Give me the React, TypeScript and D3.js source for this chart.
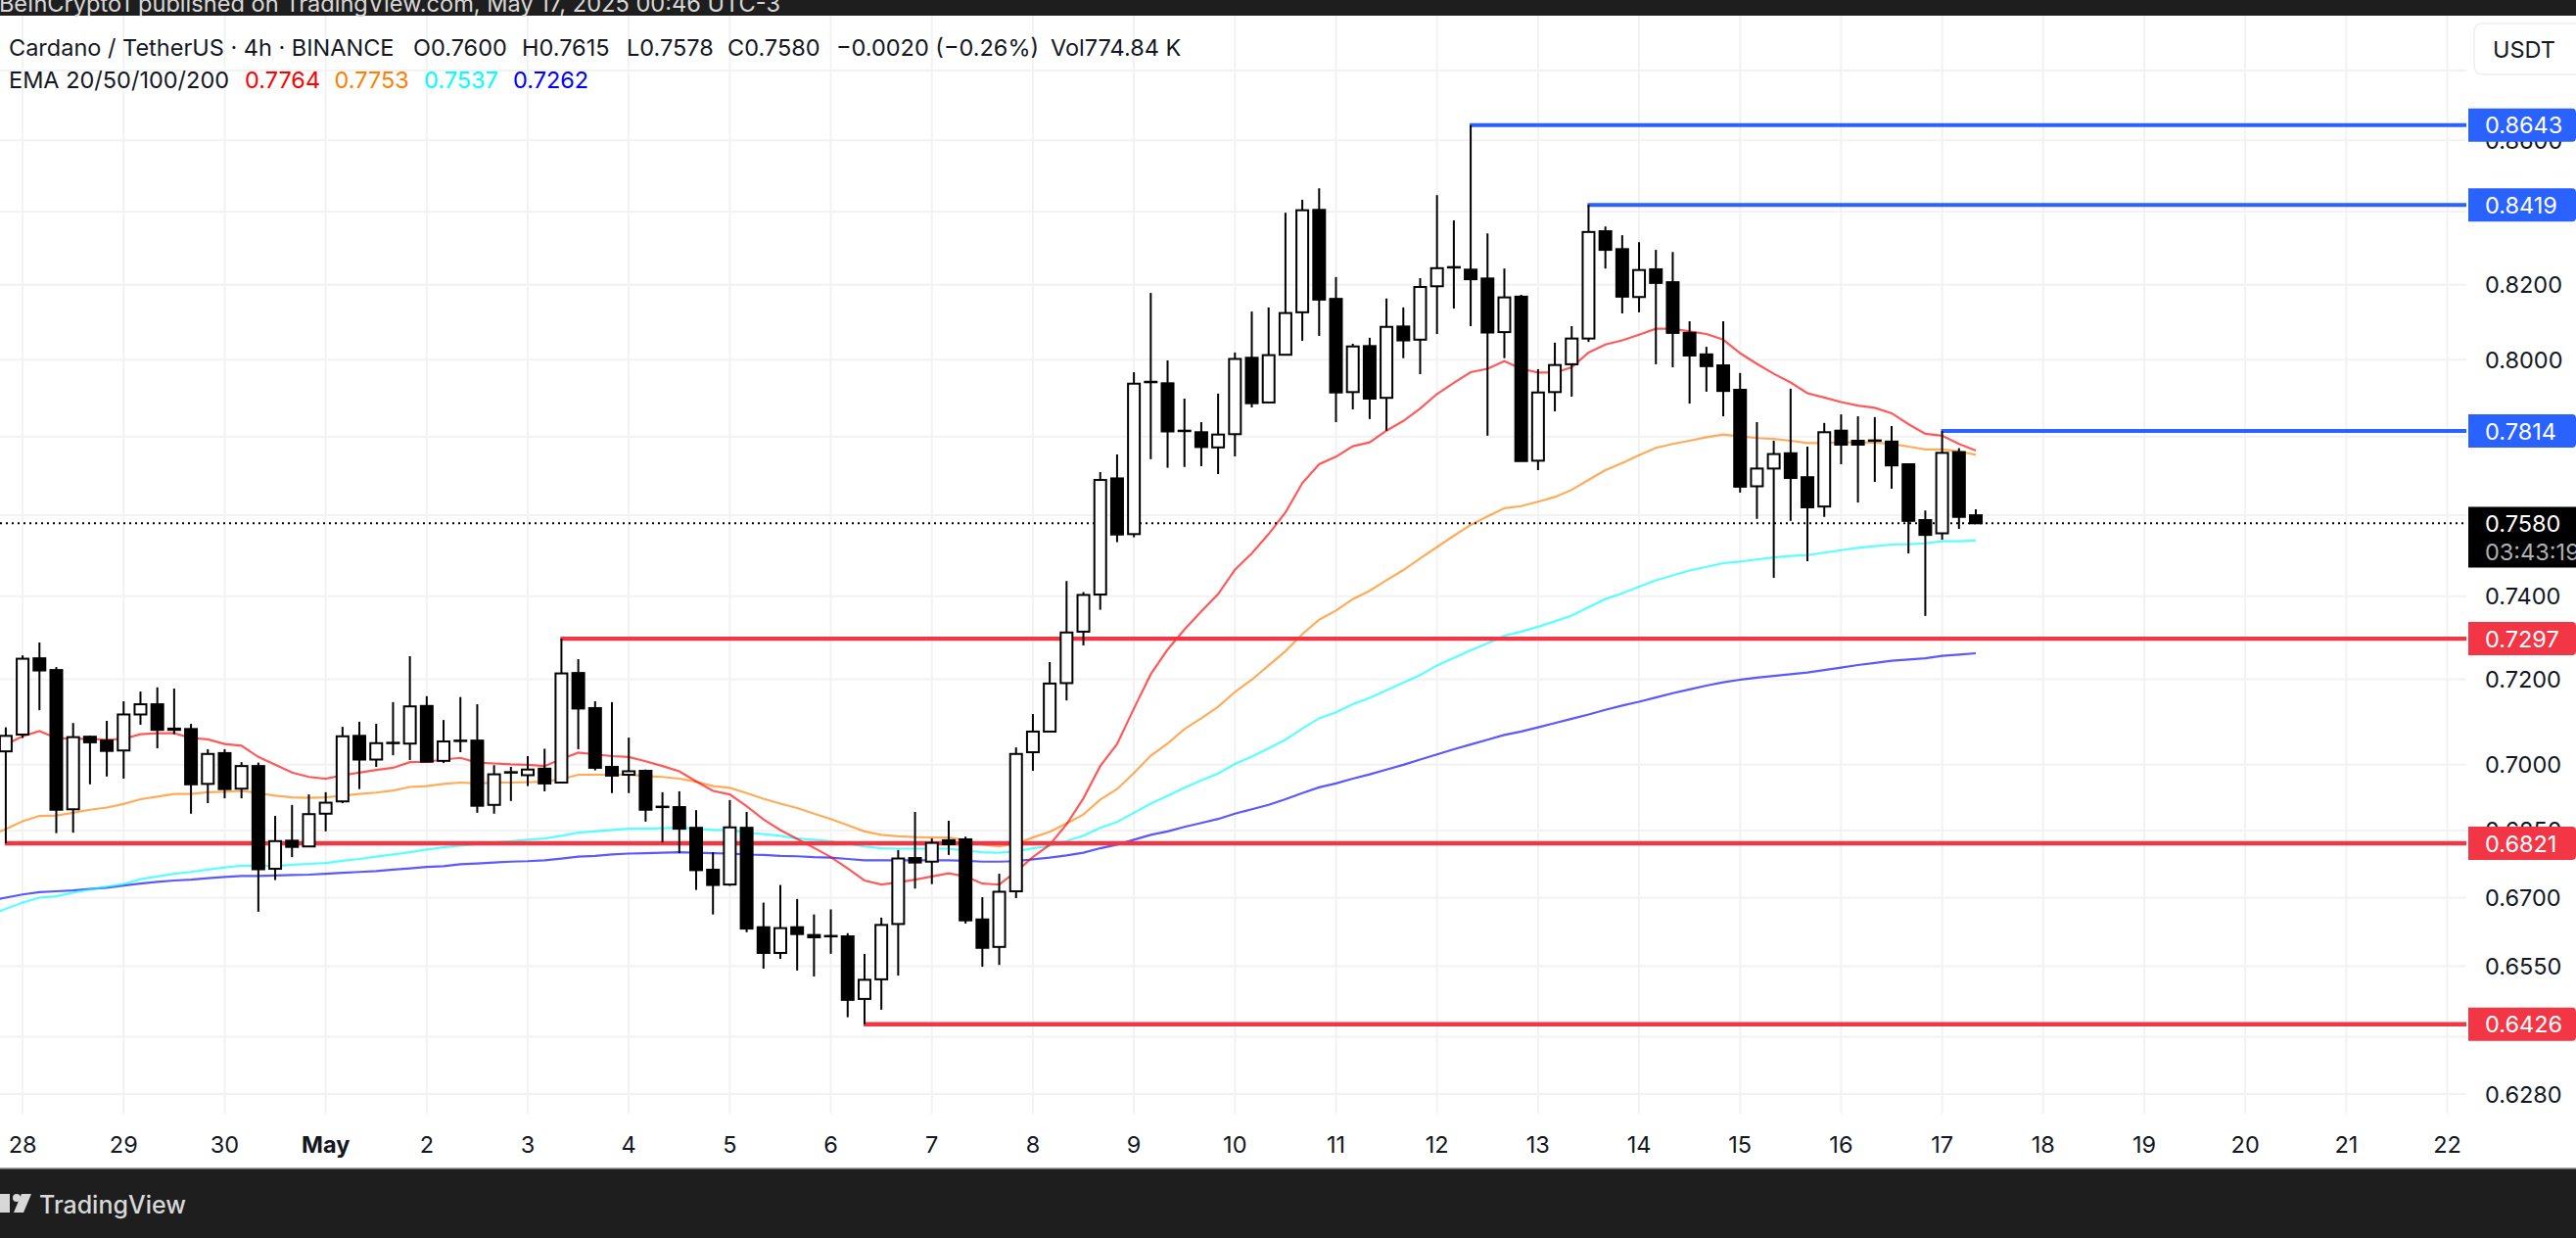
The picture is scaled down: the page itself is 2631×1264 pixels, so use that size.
import React from "react";
import * as d3 from "d3";

const W = 2631;
const H = 1264;

// Candle OHLC (4h bars, left to right)
const opens = [
  .7031,.7070,.7250,.7222,.6898,.7065,.7056,.7033,.7117,.7141,.7084,.7083,.6956,.7027,.6945,.6997,.6764,.6827,.6814,.6888,
  .6916,.7067,.7012,.7050,.7049,.7137,.7009,.7056,.7056,.6908,.6982,.6976,.6991,.6959,.7215,.7132,.6995,.6977,.6986,.6904,
  .6903,.6856,.6762,.6729,.6856,.6635,.6579,.6635,.6618,.6616,.6615,.6480,.6522,.6642,.6788,.6780,.6828,.6830,.6652,.6592,
  .6714,.7029,.7077,.7191,.7314,.7404,.7693,.7553,.7941,.7938,.7815,.7811,.7772,.7806,.8005,.7888,.8013,.8126,.8405,.8162,
  .7915,.8036,.7900,.8088,.8053,.8196,.8247,.8241,.8217,.8073,.8168,.7738,.7915,.7988,.8056,.8346,.8297,.8167,.8242,.8207,
  .8071,.8014,.7985,.7921,.7673,.7718,.7757,.7696,.7622,.7815,.7789,.7790,.7787,.7729,.7588,.7555,.7760,.7600,
];
const highs = [
  .7087,.7257,.7288,.7229,.7097,.7067,.7102,.7148,.7171,.7181,.7178,.7095,.7036,.7036,.7006,.7005,.6883,.6908,.6932,.6937,
  .7088,.7100,.7095,.7146,.7255,.7160,.7104,.7158,.7141,.6999,.6995,.7020,.7037,.7297,.7248,.7148,.7146,.7063,.6989,.6937,
  .6939,.6896,.6801,.6919,.6892,.6689,.6728,.6697,.6663,.6674,.6622,.6577,.6656,.6806,.6892,.6832,.6872,.6836,.6701,.6753,
  .7040,.7118,.7241,.7437,.7410,.7709,.7754,.7967,.8178,.7998,.7898,.7837,.7911,.8019,.8128,.8139,.8397,.8433,.8465,.8221,
  .8042,.8058,.8163,.8139,.8218,.8446,.8376,.8643,.8340,.8244,.8173,.7975,.8045,.8089,.8419,.8359,.8335,.8316,.8295,.8289,
  .8102,.8034,.8102,.7965,.7837,.7789,.7924,.7774,.7835,.7857,.7852,.7850,.7827,.7729,.7612,.7814,.7770,.7615,
];
const lows = [
  .6821,.7062,.7127,.6844,.6845,.6955,.6973,.6968,.7093,.7038,.7071,.6888,.6912,.6923,.6923,.6669,.6739,.6790,.6814,.6848,
  .6912,.6944,.6995,.7022,.7011,.7007,.7004,.7029,.6890,.6888,.6917,.6951,.6939,.6959,.7036,.6987,.6935,.6935,.6870,.6823,
  .6799,.6717,.6663,.6726,.6624,.6545,.6566,.6541,.6528,.6577,.6441,.6426,.6457,.6530,.6720,.6730,.6795,.6643,.6549,.6553,
  .6699,.6986,.7077,.7150,.7281,.7367,.7533,.7545,.7742,.7720,.7722,.7724,.7704,.7749,.7875,.7888,.8013,.8050,.8063,.7837,
  .7870,.7845,.7815,.8004,.7962,.8068,.8136,.8089,.7802,.8004,.7737,.7714,.7865,.7903,.8047,.8244,.8123,.8126,.7988,.7980,
  .7885,.7916,.7852,.7657,.7591,.7445,.7586,.7486,.7596,.7729,.7632,.7684,.7667,.7505,.7352,.7539,.7566,.7578,
];
const closes = [
  .7067,.7249,.7221,.6897,.7064,.7052,.7032,.7117,.7141,.7081,.7081,.6955,.7025,.6944,.6997,.6763,.6826,.6813,.6887,.6913,
  .7066,.7012,.7050,.7051,.7136,.7007,.7054,.7055,.6906,.6978,.6983,.6989,.6957,.7214,.7131,.6993,.6975,.6985,.6897,.6903,
  .6854,.6761,.6728,.6857,.6632,.6579,.6633,.6620,.6613,.6615,.6478,.6521,.6640,.6787,.6778,.6822,.6819,.6650,.6590,.6713,
  .7025,.7077,.7190,.7312,.7403,.7689,.7552,.7937,.7942,.7813,.7814,.7773,.7805,.8002,.7886,.8012,.8124,.8404,.8160,.7914,
  .8035,.7898,.8087,.8051,.8194,.8245,.8248,.8215,.8072,.8166,.7737,.7914,.7986,.8056,.8344,.8295,.8168,.8240,.8205,.8071,
  .8011,.7983,.7918,.7672,.7718,.7755,.7694,.7620,.7811,.7779,.7779,.7789,.7726,.7586,.7551,.7758,.7596,.7580,
];

// EMA lines; first value sits one bar left of the first candle
const ema20 = [
  .7036,.7047,.7066,.7078,.7062,.7060,.7060,.7058,.7060,.7071,.7073,.7073,.7062,.7059,.7048,.7044,.7018,.7000,.6982,.6972,
  .6968,.6976,.6982,.6988,.6993,.7006,.7007,.7012,.7016,.7005,.7003,.7001,.7000,.6997,.7013,.7028,.7024,.7020,.7018,.7008,
  .6997,.6985,.6962,.6940,.6932,.6905,.6875,.6851,.6831,.6811,.6790,.6765,.6738,.6729,.6734,.6740,.6747,.6754,.6747,.6731,
  .6729,.6758,.6790,.6818,.6864,.6923,.6997,.7048,.7131,.7212,.7271,.7319,.7363,.7405,.7465,.7505,.7553,.7607,.7681,.7729,
  .7748,.7775,.7785,.7815,.7840,.7872,.7910,.7939,.7967,.7976,.7996,.7976,.7966,.7966,.7980,.8019,.8040,.8051,.8066,.8082,
  .8082,.8075,.8068,.8053,.8017,.7989,.7963,.7940,.7912,.7901,.7889,.7880,.7874,.7860,.7832,.7807,.7802,.7781,.7764,
];
const ema50 = [
  .6838,.6853,.6871,.6883,.6884,.6890,.6897,.6902,.6910,.6921,.6927,.6933,.6933,.6937,.6938,.6940,.6935,.6929,.6925,.6924,
  .6925,.6929,.6933,.6936,.6941,.6949,.6951,.6956,.6959,.6957,.6959,.6959,.6960,.6961,.6967,.6977,.6977,.6977,.6977,.6974,
  .6972,.6968,.6961,.6951,.6947,.6935,.6922,.6911,.6901,.6888,.6876,.6862,.6848,.6840,.6837,.6835,.6834,.6834,.6828,.6818,
  .6814,.6820,.6834,.6847,.6866,.6886,.6920,.6944,.6981,.7021,.7049,.7083,.7108,.7135,.7170,.7199,.7233,.7267,.7308,.7343,
  .7365,.7393,.7413,.7439,.7464,.7493,.7521,.7549,.7576,.7597,.7618,.7623,.7634,.7646,.7664,.7689,.7714,.7732,.7752,.7771,
  .7781,.7789,.7798,.7805,.7800,.7796,.7794,.7789,.7783,.7783,.7785,.7785,.7784,.7781,.7774,.7767,.7767,.7762,.7753,
];
const ema100 = [
  .6661,.6675,.6689,.6700,.6703,.6711,.6718,.6724,.6730,.6741,.6747,.6753,.6757,.6762,.6767,.6771,.6771,.6770,.6773,.6775,
  .6777,.6782,.6786,.6791,.6796,.6801,.6807,.6812,.6816,.6819,.6823,.6826,.6829,.6832,.6838,.6845,.6848,.6851,.6854,.6854,
  .6855,.6856,.6854,.6851,.6851,.6845,.6842,.6838,.6832,.6829,.6826,.6820,.6814,.6810,.6809,.6809,.6809,.6809,.6805,.6801,
  .6800,.6803,.6810,.6815,.6826,.6838,.6856,.6869,.6890,.6911,.6929,.6947,.6964,.6980,.7002,.7019,.7038,.7058,.7084,.7108,
  .7122,.7141,.7156,.7174,.7192,.7210,.7233,.7251,.7269,.7286,.7304,.7314,.7326,.7339,.7353,.7373,.7393,.7407,.7423,.7439,
  .7451,.7463,.7472,.7481,.7485,.7490,.7495,.7499,.7501,.7507,.7513,.7519,.7523,.7527,.7528,.7530,.7535,.7535,.7537,
];
const ema200 = [
  .6693,.6700,.6707,.6712,.6714,.6716,.6719,.6722,.6727,.6731,.6735,.6738,.6740,.6743,.6746,.6748,.6748,.6749,.6750,.6751,
  .6753,.6755,.6757,.6759,.6762,.6765,.6768,.6770,.6774,.6776,.6778,.6780,.6781,.6783,.6787,.6791,.6793,.6796,.6798,.6799,
  .6800,.6801,.6800,.6799,.6798,.6796,.6795,.6793,.6792,.6790,.6789,.6786,.6783,.6783,.6783,.6783,.6783,.6783,.6782,.6780,
  .6780,.6781,.6785,.6789,.6794,.6800,.6810,.6818,.6829,.6840,.6848,.6858,.6867,.6876,.6888,.6898,.6908,.6921,.6935,.6948,
  .6957,.6968,.6978,.6989,.7000,.7012,.7024,.7036,.7047,.7058,.7069,.7077,.7087,.7097,.7107,.7117,.7128,.7138,.7147,.7157,
  .7167,.7176,.7185,.7193,.7199,.7204,.7208,.7212,.7216,.7222,.7228,.7234,.7239,.7244,.7247,.7250,.7256,.7259,.7262,
];

const gridPrices = [0.88, 0.86, 0.84, 0.82, 0.8, 0.78, 0.76, 0.74, 0.72, 0.7, 0.685, 0.67, 0.655, 0.64, 0.628];
const priceLabels = [0.86, 0.82, 0.8, 0.74, 0.72, 0.7, 0.685, 0.67, 0.655, 0.628];
const dayLabels = ["28","29","30","May","2","3","4","5","6","7","8","9","10","11","12","13","14","15","16","17","18","19","20","21","22"];
const BARS_PER_DAY = 6;
const FIRST_DAY_BAR = 1;

const resistanceLevels = [
  { price: 0.8643, startBar: 87 },
  { price: 0.8419, startBar: 94 },
  { price: 0.7814, startBar: 115 },
];
const supportLevels = [
  { price: 0.7297, startBar: 33 },
  { price: 0.6821, startBar: 0 },
  { price: 0.6426, startBar: 51 },
];
const lastPrice = 0.758;

const BLUE = "#2962ff";
const RED = "#f23645";
const INK = "#131722";
const GRID = "#f2f2f3";
const FONT = "Inter, sans-serif";
const PANE_R = 2519;
const PANE_B = 1137;
const TOP = 16;
const BOTTOM = 1193;

const x = d3.scaleLinear().domain([0, 117]).range([5.9, 2018]);
const y = d3.scaleLog().domain([0.628, 0.8643]).range([1117, 127.8]);

const emaLine = d3
  .line<number>()
  .x((_, i) => x(i - 1))
  .y((d) => y(d));

const emas = [
  { values: ema200, color: "#0000ff" },
  { values: ema100, color: "#00ffff" },
  { values: ema50, color: "#ff8000" },
  { values: ema20, color: "#ff0000" },
];

function PriceBadge({ price, color }: { price: number; color: string }) {
  const cy = y(price);
  return (
    <g>
      <path
        d={`M2521 ${cy - 17}H2627a4 4 0 0 1 4 4V${cy + 13}a4 4 0 0 1 -4 4H2521Z`}
        fill={color}
      />
      <text x={2538} y={cy} dominantBaseline="central" fill="#fff" fontFamily={FONT} fontSize={23.5}>
        {price.toFixed(4)}
      </text>
    </g>
  );
}

export default function App() {
  const lastY = y(lastPrice);
  return (
    <svg
      width={W}
      height={H}
      viewBox={`0 0 ${W} ${H}`}
      style={{ position: "absolute", left: 0, top: 0, display: "block", background: "#fff" }}
    >
      <rect width={W} height={H} fill="#fff" />

      {/* grid */}
      {gridPrices.map((t) => (
        <line key={t} x1={0} x2={PANE_R} y1={y(t)} y2={y(t)} stroke={GRID} strokeWidth={2} />
      ))}
      {dayLabels.map((d, k) => {
        const px = x(FIRST_DAY_BAR + k * BARS_PER_DAY);
        return <line key={d} x1={px} x2={px} y1={TOP} y2={PANE_B} stroke={GRID} strokeWidth={2} />;
      })}

      {/* EMA lines */}
      {emas.map((e) => (
        <path key={e.color} d={emaLine(e.values) ?? ""} fill="none" stroke={e.color} strokeOpacity={0.65} strokeWidth={2.2} />
      ))}

      {/* levels */}
      {resistanceLevels.map((l) => (
        <line key={l.price} x1={x(l.startBar) - 1} x2={PANE_R} y1={y(l.price)} y2={y(l.price)} stroke={BLUE} strokeWidth={4} />
      ))}
      {supportLevels.map((l) => (
        <line key={l.price} x1={x(l.startBar) - 1} x2={PANE_R} y1={y(l.price)} y2={y(l.price)} stroke={RED} strokeWidth={4.4} />
      ))}

      {/* last price line */}
      <line x1={0} x2={2516} y1={lastY} y2={lastY} stroke="#000" strokeWidth={2} strokeDasharray="2 4" />

      {/* candles */}
      {opens.map((o, i) => {
        const c = closes[i];
        const cx = x(i);
        const up = c >= o;
        const top = y(Math.max(o, c));
        const bot = y(Math.min(o, c));
        return (
          <g key={i}>
            <line x1={cx} x2={cx} y1={y(highs[i])} y2={y(lows[i])} stroke="#000" strokeWidth={2} />
            <rect x={cx - 6} width={12} y={top} height={Math.max(bot - top, 0.5)} fill={up ? "#fff" : "#000"} stroke="#000" strokeWidth={2} />
          </g>
        );
      })}

      {/* price axis */}
      {priceLabels.map((t) => (
        <text key={t} x={2538} y={y(t)} dominantBaseline="central" fill={INK} fontFamily={FONT} fontSize={23.5}>
          {t.toFixed(4)}
        </text>
      ))}
      {resistanceLevels.map((l) => <PriceBadge key={l.price} price={l.price} color={BLUE} />)}
      {supportLevels.map((l) => <PriceBadge key={l.price} price={l.price} color={RED} />)}

      <rect x={2521} y={517.5} width={110} height={62} fill="#000" />
      <text x={2538} y={lastY} dominantBaseline="central" fill="#fff" fontFamily={FONT} fontSize={23.5}>{lastPrice.toFixed(4)}</text>
      <text x={2538} y={563} dominantBaseline="central" fill="#aeb0b5" fontFamily={FONT} fontSize={23.5}>03:43:19</text>

      <rect x={2527} y={24} width={120} height={52} rx={8} fill="#fff" stroke="#eeeeef" strokeWidth={1.5} />
      <text x={2546} y={50} dominantBaseline="central" fill={INK} fontFamily={FONT} fontSize={23.5}>USDT</text>

      {/* time axis */}
      {dayLabels.map((d, k) => (
        <text
          key={d}
          x={x(FIRST_DAY_BAR + k * BARS_PER_DAY)}
          y={1168}
          textAnchor="middle"
          dominantBaseline="central"
          fill={INK}
          fontFamily={FONT}
          fontSize={23.5}
          fontWeight={d === "May" ? 700 : 400}
        >
          {d}
        </text>
      ))}

      {/* header */}
      <g fontFamily={FONT} fontSize={23.5} fill={INK} dominantBaseline="central">
        <text x={9} y={48}>Cardano / TetherUS · 4h · BINANCE</text>
        <text x={422} y={48}>O0.7600</text>
        <text x={533} y={48}>H0.7615</text>
        <text x={640} y={48}>L0.7578</text>
        <text x={743} y={48}>C0.7580</text>
        <text x={854} y={48}>−0.0020 (−0.26%)</text>
        <text x={1073} y={48}>Vol774.84 K</text>
        <text x={9} y={81}>EMA 20/50/100/200</text>
        <text x={250} y={81} fill="#ff0000">0.7764</text>
        <text x={341.5} y={81} fill="#ff8000">0.7753</text>
        <text x={433} y={81} fill="#00ffff">0.7537</text>
        <text x={524} y={81} fill="#0000ff">0.7262</text>
      </g>

      {/* top and bottom bands */}
      <rect x={0} y={0} width={W} height={TOP} fill="#1e1e1e" />
      <text x={133} y={3} textAnchor="end" dominantBaseline="central" fill="#d8d8d8" fontFamily={FONT} fontSize={23.6}>
        BeInCrypto1
      </text>
      <text x={141} y={3} dominantBaseline="central" fill="#d8d8d8" fontFamily={FONT} fontSize={23.6}>
        published on TradingView.com, May 17, 2025 00:46 UTC-3
      </text>
      <rect x={0} y={BOTTOM} width={W} height={H - BOTTOM} fill="#1e1e1e" />
      <line x1={0} x2={W} y1={BOTTOM} y2={BOTTOM} stroke="#8a8a8a" strokeWidth={1.5} />
      <g fill="#d8d8d8">
        <path d="M0 1219H10V1238H0Z" />
        <circle cx={17} cy={1223} r={4} />
        <path d="M22 1219H32L24 1238H14Z" />
      </g>
      <text x={40} y={1230} dominantBaseline="central" fill="#d8d8d8" fontFamily={FONT} fontSize={25} fontWeight={500}>
        TradingView
      </text>
    </svg>
  );
}
